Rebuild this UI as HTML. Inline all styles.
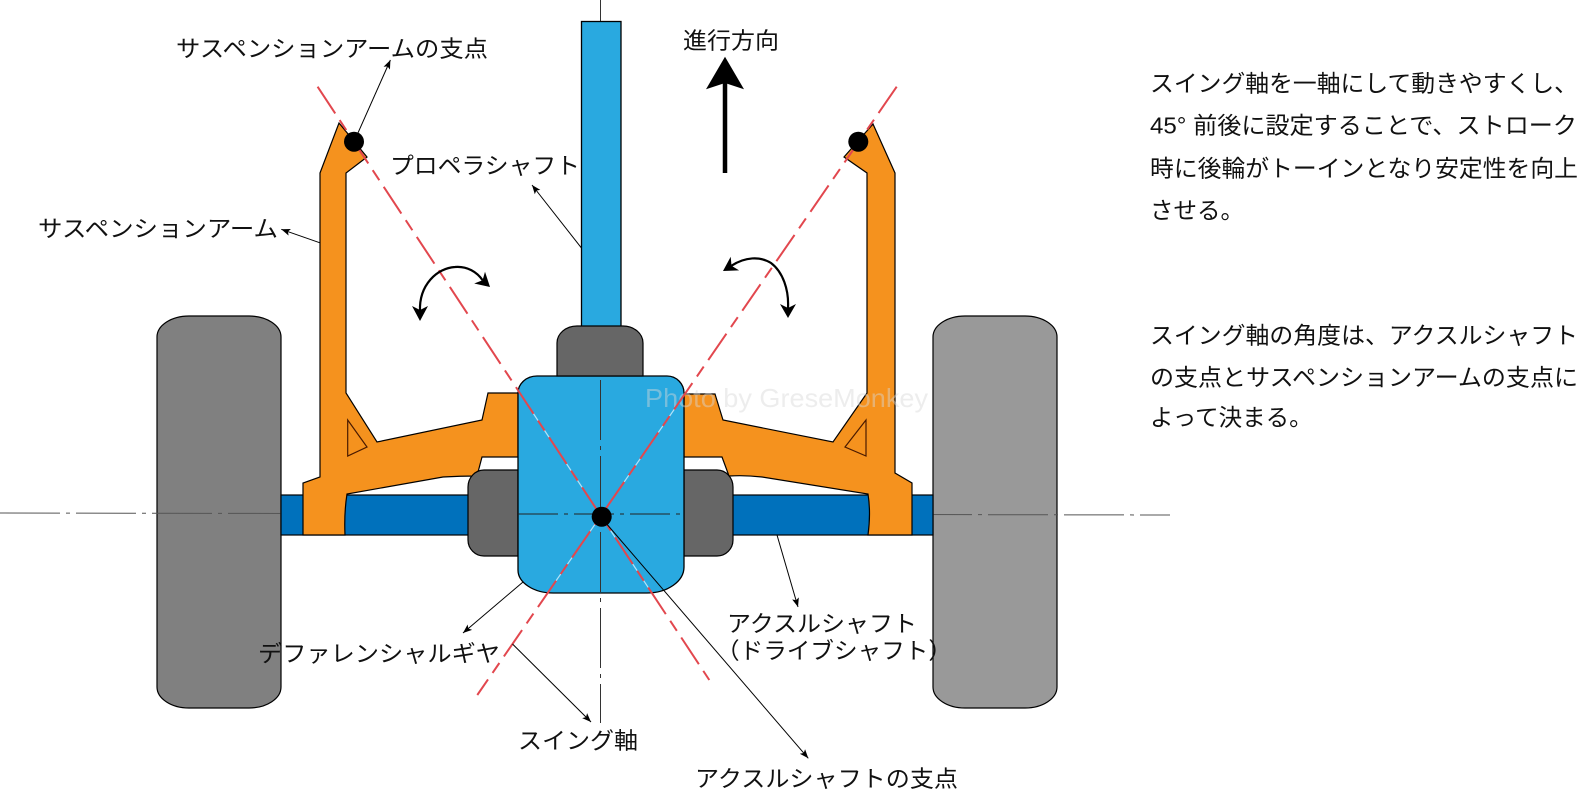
<!DOCTYPE html>
<html>
<head>
<meta charset="utf-8">
<style>
html,body{margin:0;padding:0;background:#fff;}
svg{display:block;}
text{font-family:"Liberation Sans","Noto Sans CJK JP",sans-serif;fill:#111;}
</style>
</head>
<body>
<svg width="1583" height="799" viewBox="0 0 1583 799" xmlns="http://www.w3.org/2000/svg">
<defs>
  <marker id="ah" markerWidth="10" markerHeight="8" refX="9" refY="4" orient="auto" markerUnits="userSpaceOnUse">
    <path d="M0,0.5 L9,4 L0,7.5 L2,4 Z" fill="#000"/>
  </marker>
  <clipPath id="bodyclip">
    <path d="M518,393 A19,17 0 0 1 537,376 L667,376 A17,17 0 0 1 684,393 L684,567 A37,26 0 0 1 647,593 L553,593 A35,23 0 0 1 518,570 Z"/>
  </clipPath>
</defs>
<rect width="1583" height="799" fill="#fff"/>

<!-- wheels -->
<path d="M157,337 A32,21 0 0 1 189,316 L249,316 A32,21 0 0 1 281,337 L281,687 A32,21 0 0 1 249,708 L189,708 A32,21 0 0 1 157,687 Z" fill="#808080" stroke="#000" stroke-width="1.2"/>
<path d="M933,337 A32,21 0 0 1 965,316 L1025,316 A32,21 0 0 1 1057,337 L1057,687 A32,21 0 0 1 1025,708 L965,708 A32,21 0 0 1 933,687 Z" fill="#999999" stroke="#000" stroke-width="1.2"/>

<!-- horizontal center line -->
<line x1="0" y1="513" x2="1170" y2="515" stroke="#555" stroke-width="1" stroke-dasharray="60 6 4 6"/>

<!-- axles -->
<rect x="281" y="495" width="189" height="40" fill="#0071BC" stroke="#000" stroke-width="1.2"/>
<rect x="731" y="495" width="202" height="40" fill="#0071BC" stroke="#000" stroke-width="1.2"/>

<!-- arms -->
<path d="M339,123 L367,157 L346,173 L346,393 L377,442 L482,420 L488,393 L518,393 L518,457 L482,457 L477,476 Q460,476 443,477 L347,494 Q344,513 345,535 L303,535 L303,483 L320,477 L320,173 Z" fill="#F5921E" stroke="#000" stroke-width="1.2" stroke-linejoin="miter"/>
<path d="M873,124 L895,173 L895,473 L912,483 L912,535 L868,535 Q871,513 868,494 L762,477 Q745,475 729,476 L722,457 L684,457 L684,394 L715,394 L723,420 L833,442 L867,393 L867,173 L844,157 Z" fill="#F5921E" stroke="#000" stroke-width="1.2"/>
<polygon points="347.7,420 347.7,456 367,447" fill="none" stroke="#4a1a00" stroke-width="1.2"/>
<polygon points="866,420 866,456 845,447" fill="none" stroke="#4a1a00" stroke-width="1.2"/>

<!-- side blocks -->
<path d="M518,470 L484,470 A16,17 0 0 0 468,487 L468,540 A16,16 0 0 0 484,556 L518,556 Z" fill="#666666" stroke="#000" stroke-width="1.2"/>
<path d="M684,470 L717,470 A16,17 0 0 1 733,487 L733,540 A16,16 0 0 1 717,556 L684,556 Z" fill="#666666" stroke="#000" stroke-width="1.2"/>

<!-- differential body -->
<path d="M518,393 A19,17 0 0 1 537,376 L667,376 A17,17 0 0 1 684,393 L684,567 A37,26 0 0 1 647,593 L553,593 A35,23 0 0 1 518,570 Z" fill="#29A9E0" stroke="#000" stroke-width="1.3"/>

<!-- light core lines inside body -->
<g clip-path="url(#bodyclip)">
  <line x1="317.6" y1="86.7" x2="709.3" y2="680" stroke="#b5e2f7" stroke-width="1.2"/>
  <line x1="896.7" y1="86.7" x2="477.3" y2="695" stroke="#b5e2f7" stroke-width="1.2"/>
  <line x1="518" y1="514" x2="684" y2="514" stroke="#222" stroke-width="1" stroke-dasharray="40 6 4 6"/>
</g>

<!-- vertical center line -->
<line x1="600.5" y1="0" x2="600.5" y2="723" stroke="#333" stroke-width="1" stroke-dasharray="60 6 4 6"/>

<!-- propeller shaft -->
<rect x="581.5" y="21.5" width="39.5" height="305" fill="#29A9E0" stroke="#000" stroke-width="1.3"/>
<!-- top block -->
<path d="M557,376 L557,343 A20,17 0 0 1 577,326 L623,326 A20,17 0 0 1 643,343 L643,376 Z" fill="#666666" stroke="#000" stroke-width="1.2"/>

<!-- watermark -->
<text x="645" y="407" font-size="26" textLength="283" lengthAdjust="spacingAndGlyphs" style="fill:#d6d6d6;fill-opacity:0.45;font-family:'Liberation Sans',sans-serif;">Photo by GreseMonkey</text>

<!-- red swing axis lines -->
<line x1="317.6" y1="86.7" x2="709.3" y2="680" stroke="#E2474E" stroke-width="2" stroke-dasharray="32 8 12 8"/>
<line x1="896.7" y1="86.7" x2="477.3" y2="695" stroke="#E2474E" stroke-width="2" stroke-dasharray="32 8 12 8"/>

<!-- pivot dots -->
<circle cx="354" cy="141.7" r="10" fill="#000"/>
<circle cx="858.3" cy="141.7" r="10" fill="#000"/>
<circle cx="601.7" cy="516.7" r="10" fill="#000"/>

<!-- travel direction arrow -->
<line x1="725" y1="173" x2="725" y2="82" stroke="#000" stroke-width="4.5"/>
<polygon points="725,56.7 744,89.3 725,83 706,89.3" fill="#000"/>

<!-- curved double arrows -->
<path d="M420,311 C419,285 437,268 455,267 C467,266 477,272 482.6,280.3" fill="none" stroke="#000" stroke-width="2.2"/>
<polygon points="420,321 428,306 420,310 412,306" fill="#000"/>
<polygon points="490,287 474.2,283.5 482.6,280.3 485,271.7" fill="#000"/>
<path d="M731.5,265.7 C745,257 760,256 771,263 C783,272 789,290 788,308" fill="none" stroke="#000" stroke-width="2.2"/>
<polygon points="723,271 739.1,270.4 731.5,265.7 730.7,256.8" fill="#000"/>
<polygon points="788,318 796,304 788,308 780,304" fill="#000"/>

<!-- leader lines -->
<g stroke="#000" stroke-width="1" fill="none" marker-end="url(#ah)">
  <line x1="357.8" y1="133.3" x2="390.4" y2="60"/>
  <line x1="319.6" y1="242.7" x2="281.3" y2="229.3"/>
  <line x1="581.7" y1="248.3" x2="532" y2="185"/>
  <line x1="523" y1="582" x2="463" y2="633"/>
  <line x1="512.5" y1="644" x2="591" y2="722"/>
  <line x1="777" y1="535" x2="798" y2="607"/>
  <line x1="605" y1="522" x2="808.3" y2="758.3"/>
</g>

<!-- labels -->
<g font-size="23">
  <text x="176" y="56.5" textLength="312" lengthAdjust="spacingAndGlyphs">サスペンションアームの支点</text>
  <text x="683" y="48.5" textLength="96" lengthAdjust="spacingAndGlyphs">進行方向</text>
  <text x="390" y="173.5" textLength="190" lengthAdjust="spacingAndGlyphs">プロペラシャフト</text>
  <text x="38" y="236.5" textLength="240" lengthAdjust="spacingAndGlyphs">サスペンションアーム</text>
  <text x="258" y="661.5" textLength="242" lengthAdjust="spacingAndGlyphs">デファレンシャルギヤ</text>
  <text x="518" y="748.5" textLength="120" lengthAdjust="spacingAndGlyphs">スイング軸</text>
  <text x="727" y="631.5" textLength="190" lengthAdjust="spacingAndGlyphs">アクスルシャフト</text>
  <text x="716" y="658.5" textLength="236" lengthAdjust="spacingAndGlyphs">（ドライブシャフト）</text>
  <text x="695" y="786.5" textLength="263" lengthAdjust="spacingAndGlyphs">アクスルシャフトの支点</text>
</g>

<!-- right paragraph -->
<g font-size="23.5">
  <text x="1150" y="91.5" textLength="428" lengthAdjust="spacingAndGlyphs">スイング軸を一軸にして動きやすくし、</text>
  <text x="1150" y="133.5" textLength="427" lengthAdjust="spacingAndGlyphs">45° 前後に設定することで、ストローク</text>
  <text x="1150" y="176.5" textLength="428" lengthAdjust="spacingAndGlyphs">時に後輪がトーインとなり安定性を向上</text>
  <text x="1150" y="218.5">させる。</text>
  <text x="1150" y="343.5" textLength="428" lengthAdjust="spacingAndGlyphs">スイング軸の角度は、アクスルシャフト</text>
  <text x="1150" y="385.5" textLength="428" lengthAdjust="spacingAndGlyphs">の支点とサスペンションアームの支点に</text>
  <text x="1150" y="425.5">よって決まる。</text>
</g>
</svg>
</body>
</html>
